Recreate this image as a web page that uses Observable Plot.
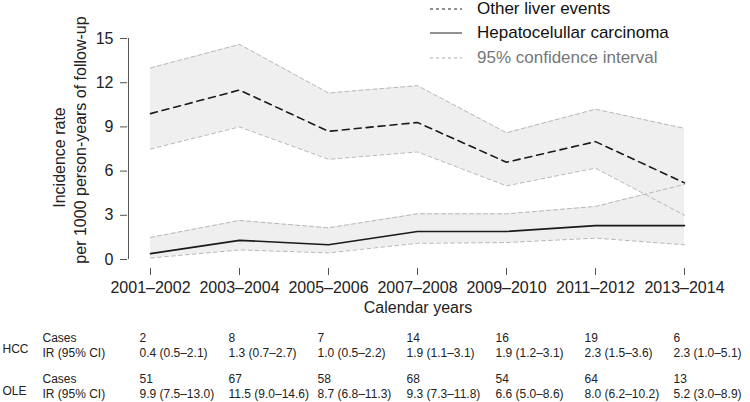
<!DOCTYPE html>
<html>
<head>
<meta charset="utf-8">
<script src="https://cdn.jsdelivr.net/npm/d3@7"></script>
<script src="https://cdn.jsdelivr.net/npm/@observablehq/plot@0.6"></script>
<style>
  html, body { margin: 0; padding: 0; background: #fff; }
  #wrap { position: relative; width: 750px; height: 402px; font-family: "Liberation Sans", Arial, Helvetica, sans-serif; }
  #legend { position: absolute; left: 430px; top: 0; width: 310px; height: 70px; }
  .lrow { position: absolute; left: 0; height: 24px; display: flex; align-items: center; white-space: nowrap; font-size: 17px; }
  .lrow svg { width: 32px; height: 4px; margin-right: 15px; flex: none; }
</style>
</head>
<body>
<div id="wrap"><div id="chart"></div><div id="legend"></div></div>
<script>
const periods = ["2001–2002", "2003–2004", "2005–2006", "2007–2008", "2009–2010", "2011–2012", "2013–2014"];

// Other liver events (OLE), drawn values
const oleRate = [9.9, 11.5, 8.7, 9.3, 6.6, 8.0, 5.2];
const oleLo   = [7.5, 9.0, 6.8, 7.3, 5.0, 6.2, 3.0];
const oleHi   = [13.0, 14.6, 11.3, 11.8, 8.6, 10.2, 8.9];

// Hepatocellular carcinoma (HCC), drawn values
const hccRate = [0.4, 1.3, 1.0, 1.9, 1.9, 2.3, 2.3];
const hccLo   = [0.1, 0.65, 0.45, 1.1, 1.15, 1.45, 1.0];
const hccHi   = [1.5, 2.65, 2.15, 3.1, 3.1, 3.6, 5.1];

// Table below the chart
const hccCases = [2, 8, 7, 14, 16, 19, 6];
const hccIR = ["0.4 (0.5–2.1)", "1.3 (0.7–2.7)", "1.0 (0.5–2.2)", "1.9 (1.1–3.1)", "1.9 (1.2–3.1)", "2.3 (1.5–3.6)", "2.3 (1.0–5.1)"];
const oleCases = [51, 67, 58, 68, 54, 64, 13];
const oleIR = ["9.9 (7.5–13.0)", "11.5 (9.0–14.6)", "8.7 (6.8–11.3)", "9.3 (7.3–11.8)", "6.6 (5.0–8.6)", "8.0 (6.2–10.2)", "5.2 (3.0–8.9)"];

const yTicks = [0, 3, 6, 9, 12, 15];

const ole = periods.map((p, i) => ({period: p, rate: oleRate[i], lo: oleLo[i], hi: oleHi[i]}));
const hcc = periods.map((p, i) => ({period: p, rate: hccRate[i], lo: hccLo[i], hi: hccHi[i]}));
const table = periods.map((p, i) => ({period: p, hccCases: String(hccCases[i]), hccIR: hccIR[i], oleCases: String(oleCases[i]), oleIR: oleIR[i]}));

const ciStroke = "#b8b8b8";
const band = "#efefef";
const ink = "#1a1a1a";
const axisInk = "#555";

const tableRow = (field, dy) => Plot.text(table, {
  x: "period", text: field, frameAnchor: "bottom", textAnchor: "start",
  lineAnchor: "middle", dx: -11, dy, fontSize: 12, fill: "#222"
});
const rowLabel = (label, dx, dy) => Plot.text([label], {
  frameAnchor: "bottom-left", textAnchor: "start", lineAnchor: "middle",
  dx, dy, fontSize: 12, fill: "#222"
});

const chart = Plot.plot({
  width: 750,
  height: 402,
  marginTop: 38,
  marginBottom: 134,
  marginLeft: 127,
  marginRight: 66,
  style: {fontFamily: "'Liberation Sans', Arial, Helvetica, sans-serif", fontSize: "16px", color: "#222", background: "#fff", overflow: "visible"},
  x: {type: "point", domain: periods, padding: 0, insetLeft: 22},
  y: {domain: [0, 15], insetBottom: 9},
  marks: [
    Plot.areaY(ole, {x: "period", y1: "lo", y2: "hi", fill: band}),
    Plot.areaY(hcc, {x: "period", y1: "lo", y2: "hi", fill: band}),
    Plot.line(ole, {x: "period", y: "lo", stroke: ciStroke, strokeWidth: 1, strokeDasharray: "4,3"}),
    Plot.line(ole, {x: "period", y: "hi", stroke: ciStroke, strokeWidth: 1, strokeDasharray: "4,3"}),
    Plot.line(hcc, {x: "period", y: "lo", stroke: ciStroke, strokeWidth: 1, strokeDasharray: "4,3"}),
    Plot.line(hcc, {x: "period", y: "hi", stroke: ciStroke, strokeWidth: 1, strokeDasharray: "4,3"}),
    Plot.line(hcc, {x: "period", y: "rate", stroke: ink, strokeWidth: 1.6}),
    Plot.line(ole, {x: "period", y: "rate", stroke: ink, strokeWidth: 1.6, strokeDasharray: "7,5"}),
    // axes
    Plot.ruleY([0], {x1: periods[0], x2: periods[periods.length - 1], dy: 9, stroke: axisInk}),
    Plot.ruleX([periods[0]], {y1: 0, y2: 15, dx: -22, stroke: axisInk}),
    Plot.axisX({tickSize: 7, tickPadding: 6, stroke: axisInk, fill: "#222", label: null}),
    Plot.axisY({ticks: yTicks, tickSize: 7, tickPadding: 7, stroke: axisInk, fill: "#222", label: null}),
    // axis titles
    Plot.text(["Incidence rate"], {frameAnchor: "left", textAnchor: "middle", rotate: -90, lineAnchor: "middle", dx: -68, dy: 4, fill: "#222"}),
    Plot.text(["per 1000 person-years of follow-up"], {frameAnchor: "left", textAnchor: "middle", rotate: -90, lineAnchor: "middle", dx: -46.5, dy: -13.5, fill: "#222"}),
    Plot.text(["Calendar years"], {frameAnchor: "bottom", textAnchor: "middle", lineAnchor: "middle", dx: 12, dy: 39, fill: "#222"}),
    // table
    rowLabel("Cases", -85, 69.2),
    rowLabel("IR (95% CI)", -85, 84.2),
    rowLabel("HCC", -125, 80.5),
    rowLabel("Cases", -85, 111),
    rowLabel("IR (95% CI)", -85, 126),
    rowLabel("OLE", -125, 123),
    tableRow("hccCases", 69.2),
    tableRow("hccIR", 84.2),
    tableRow("oleCases", 111),
    tableRow("oleIR", 126)
  ]
});
document.getElementById("chart").appendChild(chart);

// legend
const legendItems = [
  {label: "Other liver events", color: "#111", stroke: "#222", dash: "3,3", center: 8.5},
  {label: "Hepatocelullar carcinoma", color: "#111", stroke: "#222", dash: null, center: 33},
  {label: "95% confidence interval", color: "#777", stroke: "#aaa", dash: "3,3", center: 57.5}
];
const legend = document.getElementById("legend");
for (const it of legendItems) {
  const row = document.createElement("div");
  row.className = "lrow";
  row.style.top = (it.center - 12) + "px";
  row.style.color = it.color;
  row.innerHTML = `<svg viewBox="0 0 32 4"><line x1="0" x2="32" y1="2" y2="2" stroke="${it.stroke}" stroke-width="1" ${it.dash ? `stroke-dasharray="${it.dash}"` : ""}/></svg><span>${it.label}</span>`;
  legend.appendChild(row);
}
</script>
</body>
</html>
